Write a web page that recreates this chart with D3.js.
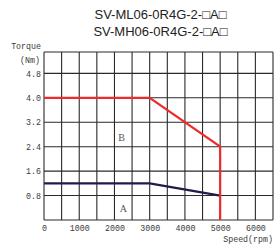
<!DOCTYPE html>
<html><head><meta charset="utf-8">
<script src="https://cdn.jsdelivr.net/npm/d3@7"></script>
<style>body{margin:0;background:#fff}svg{display:block}</style>
</head><body>
<svg id="c" width="274" height="248"></svg>
<script>
const titleLines = ["SV-ML06-0R4G-2-\u25A1A\u25A1", "SV-MH06-0R4G-2-\u25A1A\u25A1"];
const xTicks = [0, 1000, 2000, 3000, 4000, 5000, 6000];
const yTicks = [0.8, 1.6, 2.4, 3.2, 4.0, 4.8];
const xGrid = [0, 500, 1000, 1500, 2000, 2500, 3000, 3500, 4000, 4500, 5000, 5500, 6000, 6500];
const seriesBSpeed = [0, 3000, 5000, 5000];
const seriesBTorque = [4.0, 4.0, 2.4, 0];
const seriesASpeed = [0, 3000, 5000];
const seriesATorque = [1.2, 1.2, 0.8];
const regionNames = ["B", "A"];
const regionSpeed = [2200, 2250];
const regionTorque = [2.7, 0.38];

const svg = d3.select("#c");
const x = d3.scaleLinear().domain([0, 6500]).range([44, 273]);
const y = d3.scaleLinear().domain([0, 5.5]).range([220, 52]);

svg.selectAll("text.title").data(titleLines).join("text")
  .attr("class","title")
  .attr("x", 160.5).attr("y", (d,i)=> 19 + i*16.5)
  .attr("text-anchor","middle")
  .attr("font-family","'Liberation Sans', Arial, sans-serif")
  .attr("font-size", 13).attr("fill","#222").text(d=>d);

const grid = svg.append("g").attr("stroke","#2a2a2a").attr("stroke-width",1.1);
grid.selectAll("line.v").data(xGrid).join("line").attr("class","v")
  .attr("x1", d=>x(d)).attr("x2", d=>x(d)).attr("y1", y(0)).attr("y2", y(5.5));
grid.selectAll("line.h").data([0, ...yTicks, 5.5]).join("line").attr("class","h")
  .attr("y1", d=>y(d)).attr("y2", d=>y(d)).attr("x1", x(0)).attr("x2", x(6500));

const mono = "'Liberation Mono', 'Courier New', monospace";
const txt = "#3a3a3a";
const xa = svg.append("g").attr("transform", `translate(0,${y(0)})`)
  .call(d3.axisBottom(x).tickValues(xTicks).tickSize(0).tickPadding(5).tickFormat(d3.format("d")));
xa.select(".domain").remove();
xa.selectAll("text").attr("font-family", mono).attr("font-size", 8.3).attr("fill",txt);
const ya = svg.append("g").attr("transform", `translate(${x(0)},0)`)
  .call(d3.axisLeft(y).tickValues(yTicks).tickSize(0).tickPadding(3).tickFormat(d3.format(".1f")));
ya.select(".domain").remove();
ya.selectAll("text").attr("font-family", mono).attr("font-size", 8.3).attr("fill",txt);

svg.append("text").attr("x", 41).attr("y", 49).attr("text-anchor","end")
  .attr("font-family", mono).attr("font-size", 8.3).attr("fill",txt).text("Torque");
svg.append("text").attr("x", 40).attr("y", 63).attr("text-anchor","end")
  .attr("font-family", mono).attr("font-size", 8.3).attr("fill",txt).text("(Nm)");
svg.append("text").attr("x", 273).attr("y", 242).attr("text-anchor","end")
  .attr("font-family", mono).attr("font-size", 8.3).attr("fill",txt).text("Speed(rpm)");

const line = d3.line().x(d=>x(d[0])).y(d=>y(d[1]));
svg.append("path").datum(seriesASpeed.map((s,i)=>[s, seriesATorque[i]]))
  .attr("d", line).attr("fill","none").attr("stroke","#1e1d4a").attr("stroke-width",2.2);
svg.append("path").datum(seriesBSpeed.map((s,i)=>[s, seriesBTorque[i]]))
  .attr("d", line).attr("fill","none").attr("stroke","#ee2a2e").attr("stroke-width",2.2);

svg.selectAll("text.region").data(regionNames).join("text").attr("class","region")
  .attr("x",(d,i)=>x(regionSpeed[i])).attr("y",(d,i)=>y(regionTorque[i]))
  .attr("text-anchor","middle").attr("dy","0.35em")
  .attr("font-family","'Liberation Serif', serif").attr("font-size",10).attr("fill","#555")
  .text(d=>d);
</script>
</body></html>
